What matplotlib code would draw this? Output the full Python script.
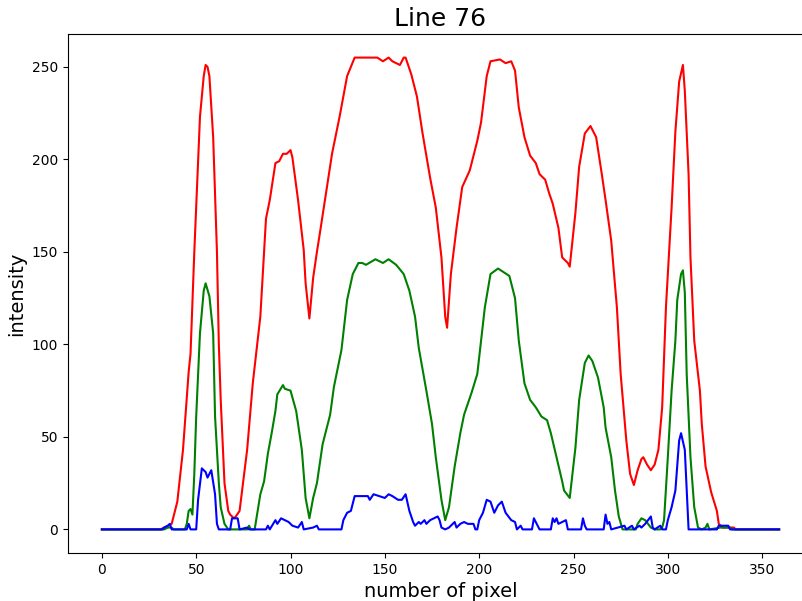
import matplotlib
matplotlib.use("Agg")
import matplotlib.pyplot as plt

red_pts = [(0,0),(31,0),(33,1),(35,2),(37,3),(40,15),(43,43),(46,85),(47,95),(49,150),(52,223),(54,245),(55,251),(56,250),(57,245),(59,212),(61,150),(62,100),(63,70),(65,25),(67,10),(68,8),(70,6),(71,7),(73,10),(77,43),(80,79),(84,115),(87,168),(89,178),(92,198),(94,199),(96,203),(98,203),(100,205),(101,201),(104,178),(107,151),(108,133),(110,114),(112,136),(114,150),(116,163),(119,183),(122,203),(126,223),(130,245),(134,255),(146,255),(149,253),(152,255),(154,253),(158,251),(160,255),(161,255),(164,246),(167,234),(170,214),(174,190),(177,174),(180,147),(182,115),(183,109),(185,138),(188,163),(191,185),(195,194),(199,210),(201,220),(204,245),(206,253),(211,254),(214,252),(217,253),(219,248),(221,228),(224,212),(227,202),(230,198),(232,192),(235,189),(237,182),(239,176),(242,163),(244,147),(247,144),(248,142),(251,171),(253,196),(256,214),(259,218),(262,212),(265,192),(267,178),(270,156),(273,120),(275,84),(278,48),(280,30),(282,24),(284,32),(286,38),(287,39),(289,35),(291,32),(293,35),(295,43),(297,66),(299,120),(302,174),(304,215),(306,242),(308,251),(309,237),(311,192),(312,147),(314,102),(317,75),(318,57),(320,34),(323,20),(326,10),(327,3),(329,1),(333,1),(335,1),(336,0),(359,0)]

green_pts = [(0,0),(33,0),(35,1),(37,1),(38,0),(44,0),(45,3),(46,10),(47,11),(48,8),(49,30),(50,61),(52,106),(54,129),(55,133),(57,126),(59,106),(60,61),(62,25),(63,12),(65,3),(67,0),(77,0),(78,2),(79,0),(81,0),(84,19),(86,26),(88,41),(90,52),(92,64),(93,73),(96,78),(97,76),(100,75),(103,64),(106,43),(108,17),(110,6),(112,17),(114,25),(117,46),(121,62),(123,77),(127,97),(130,124),(133,138),(136,144),(138,144),(140,143),(145,146),(149,144),(152,146),(156,143),(160,138),(163,129),(166,115),(168,98),(172,75),(175,57),(177,39),(180,16),(182,5),(184,12),(187,34),(190,52),(192,62),(196,74),(199,84),(200,93),(203,120),(206,138),(210,141),(213,139),(216,137),(219,125),(221,102),(224,79),(227,70),(230,66),(233,61),(236,59),(238,52),(241,39),(244,26),(245,21),(248,17),(251,44),(253,70),(256,90),(258,94),(260,91),(263,82),(266,66),(267,55),(270,39),(272,21),(274,7),(276,0),(283,0),(284,3),(286,6),(288,5),(291,1),(293,0),(296,0),(297,1),(298,5),(300,39),(302,75),(304,102),(305,124),(307,138),(308,140),(309,128),(310,84),(312,39),(314,12),(316,1),(318,0),(320,1),(321,3),(322,0),(328,1),(333,1),(334,0),(359,0)]

blue_pts = [(0,0),(32,0),(33,1),(35,2),(36,3),(37,0),(45,0),(46,3),(47,0),(50,0),(51,16),(53,33),(55,31),(56,28),(57,30),(58,32),(60,19),(61,3),(62,0),(68,0),(69,6),(72,6),(73,0),(77,1),(78,0),(87,0),(88,2),(89,0),(92,5),(93,3),(95,6),(97,5),(99,4),(101,2),(104,1),(106,4),(107,0),(112,1),(114,2),(115,0),(127,0),(128,5),(130,9),(132,10),(134,18),(141,18),(142,16),(144,19),(147,18),(150,17),(152,19),(154,18),(157,16),(159,16),(161,19),(163,10),(165,4),(166,2),(168,4),(169,3),(171,5),(172,3),(174,5),(176,6),(178,7),(179,5),(180,1),(182,0),(184,1),(187,4),(188,1),(190,3),(192,4),(194,3),(197,3),(198,0),(199,0),(200,5),(202,9),(204,16),(206,15),(208,9),(210,13),(212,15),(214,9),(217,5),(219,4),(220,0),(222,2),(223,0),(228,0),(229,6),(230,4),(232,0),(238,0),(239,6),(240,4),(241,6),(242,3),(246,5),(247,0),(254,0),(255,6),(256,2),(257,0),(266,0),(267,8),(268,3),(269,4),(270,0),(277,2),(278,0),(281,2),(282,0),(285,2),(286,1),(288,3),(291,7),(292,1),(293,0),(296,2),(297,0),(299,0),(300,5),(302,12),(304,21),(306,48),(307,52),(309,43),(310,21),(311,0),(326,0),(327,2),(332,2),(333,0),(359,0)]

red_x = [p[0] for p in red_pts]; red_y = [p[1] for p in red_pts]
green_x = [p[0] for p in green_pts]; green_y = [p[1] for p in green_pts]
blue_x = [p[0] for p in blue_pts]; blue_y = [p[1] for p in blue_pts]

fig = plt.figure(figsize=(8.03, 6.01), dpi=100)
ax = fig.add_axes([68/803, 1-553/601, (813-68)/803, (553-34)/601])
ax.plot(red_x, red_y, color="red", lw=1.5)
ax.plot(green_x, green_y, color="green", lw=1.5)
ax.plot(blue_x, blue_y, color="blue", lw=1.5)
ax.set_xticks([0, 50, 100, 150, 200, 250, 300, 350])
ax.set_yticks([0, 50, 100, 150, 200, 250])
ax.set_title("Line 76", fontsize=18)
ax.set_xlabel("number of pixel", fontsize=14)
ax.set_ylabel("intensity", fontsize=14)
fig.savefig("out.png", dpi=100)
